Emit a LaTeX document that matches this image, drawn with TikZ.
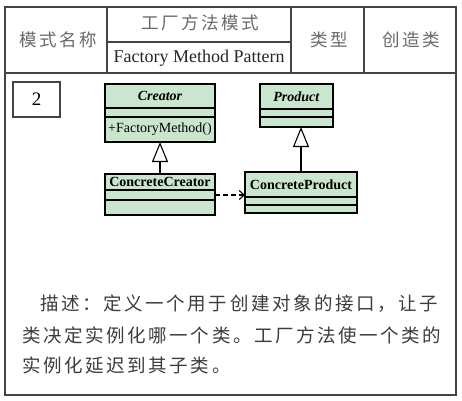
\documentclass[tikz,border=0pt]{standalone}
\usepackage{fontspec}
\setmainfont{Liberation Serif}
\newfontfamily\cjk{Noto Sans CJK SC}
\newfontfamily\cjkwide[LetterSpace=14]{Noto Sans CJK SC}
\usetikzlibrary{arrows.meta,positioning}
\definecolor{umlgreen}{RGB}{202,230,206}
\definecolor{framegray}{RGB}{68,68,68}
\definecolor{hdrgray}{RGB}{105,105,105}
\definecolor{descgray}{RGB}{60,60,60}

\tikzset{
    clsbox/.style={draw=black, fill=umlgreen, line width=1.1pt,
	inner sep=0pt, outer sep=0pt, font=\fontsize{14}{15}\selectfont},
    hdr/.style={text=hdrgray, font=\cjkwide\fontsize{17.5}{18}\selectfont},
    desc/.style={text=descgray, anchor=base west, inner sep=0pt,
	font=\cjkwide\fontsize{18.5}{20}\selectfont},
    inherit/.style={line width=1.1pt, -{Triangle[open, length=20pt, width=16pt, fill=white]}},
    depend/.style={line width=1.1pt, dash pattern=on 5pt off 3pt,
	-{Straight Barb[length=5pt, width=9pt]}}
}

\begin{document}
\begin{tikzpicture}[x=1pt, y=-1pt]
    \useasboundingbox (0, 0) rectangle (462, 400);

    % table
    \draw[framegray, line width=1.4pt] (5, 7) rectangle (456, 395);
    \draw[framegray, line width=1.4pt] (5, 73) -- (456, 73);
    \draw[framegray, line width=1.4pt] (107, 7) -- (107, 73);
    \draw[framegray, line width=1.4pt] (291, 7) -- (291, 73);
    \draw[framegray, line width=1.4pt] (364, 7) -- (364, 73);
    \draw[framegray, line width=1.4pt] (107, 42) -- (291, 42);

    \node[hdr] (nameLbl) at (58, 40) {模式名称};
    \node[hdr] (titleCn) at (200, 23) {工厂方法模式};
    \node[text=black!85, font=\fontsize{18}{20}\selectfont] (titleEn) at (199, 58) {Factory Method Pattern};
    \node[hdr] (typeLbl) at (329, 40) {类型};
    \node[hdr] (typeVal) at (411, 40) {创造类};

    \node[draw=framegray, line width=1.4pt, minimum width=47pt, minimum height=35pt,
	inner sep=0pt, font=\fontsize{19}{20}\selectfont] (num) at (36.5, 99.5) {2};

    % classes
    \node[clsbox, minimum width=110pt, minimum height=24pt] (creator) at (160, 96)
	{\textbf{\textit{Creator}}};
    \node[clsbox, minimum width=110pt, minimum height=9pt, below=0pt of creator] (creatorAttr) {};
    \node[clsbox, minimum width=110pt, minimum height=25pt, below=0pt of creatorAttr]
	(creatorOps) {+FactoryMethod()};

    \node[clsbox, minimum width=110pt, minimum height=16pt] (ccreator) at (160, 182)
	{\textbf{ConcreteCreator}};
    \node[clsbox, minimum width=110pt, minimum height=10pt, below=0pt of ccreator] (ccreatorAttr) {};
    \node[clsbox, minimum width=110pt, minimum height=15pt, below=0pt of ccreatorAttr] (ccreatorOps) {};

    \node[clsbox, minimum width=73pt, minimum height=25pt] (product) at (296.5, 96.5)
	{\textbf{\textit{Product}}};
    \node[clsbox, minimum width=73pt, minimum height=8pt, below=0pt of product] (productAttr) {};
    \node[clsbox, minimum width=73pt, minimum height=10pt, below=0pt of productAttr] (productOps) {};

    \node[clsbox, minimum width=112pt, minimum height=25pt] (cproduct) at (301, 184.5)
	{\textbf{ConcreteProduct}};
    \node[clsbox, minimum width=112pt, minimum height=8pt, below=0pt of cproduct] (cproductAttr) {};
    \node[clsbox, minimum width=112pt, minimum height=8pt, below=0pt of cproductAttr] (cproductOps) {};

    \draw[inherit] (ccreator.north) -- (creatorOps.south);
    \draw[inherit] (cproduct.north) -- (cproduct.north |- productOps.south);
    \draw[depend] (ccreatorAttr.east) -- (ccreatorAttr.east -| cproduct.west);

    % description
    \node[desc] (desc1) at (40, 310) {描述：定义一个用于创建对象的接口，让子};
    \node[desc] (desc2) at (22, 342) {类决定实例化哪一个类。工厂方法使一个类的};
    \node[desc] (desc3) at (22, 372) {实例化延迟到其子类。};
\end{tikzpicture}
\end{document}
